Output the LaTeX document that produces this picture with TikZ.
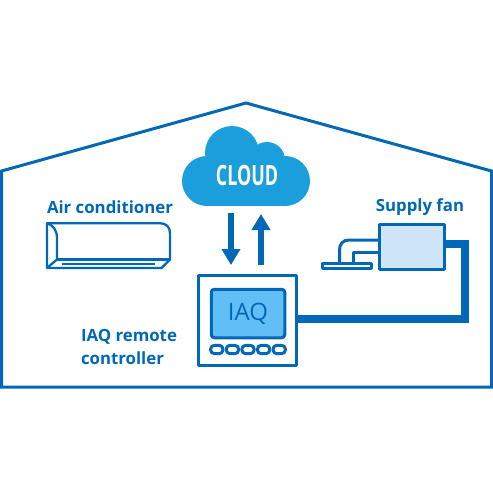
\documentclass[tikz,border=0pt]{standalone}
\usepackage{fontspec}
\setmainfont{Open Sans}
\usepackage{xcolor}
\definecolor{deep}{HTML}{0068B7}
\definecolor{sky}{HTML}{1A9EDC}
\definecolor{glass}{HTML}{62BFF5}
\definecolor{pale}{HTML}{CFE6F8}
\usetikzlibrary{arrows.meta,positioning}

\begin{document}
\begin{tikzpicture}[
  x=1pt, y=-1pt,
  outline/.style={draw=deep, line width=3pt, line join=round},
  thinline/.style={draw=deep, line width=2.3pt, line join=round},
  unit/.style={outline, fill=white, inner sep=0pt},
  lbl/.style={text=deep, font=\bfseries\fontsize{16.8}{23}\selectfont, inner sep=0pt, align=left},
  wire/.style={draw=deep, line width=8.5pt, line join=miter},
  arr/.style={deep, line width=6pt, -{Triangle[length=16pt, width=18pt]}},
  key/.style={unit, rounded corners=3.5pt, minimum width=12.2pt, minimum height=8.2pt}
]
\useasboundingbox (0,0) rectangle (493,490);
% house
\draw[outline, line join=miter] (1.5,387) -- (1.5,171) -- (246,103) -- (491.5,171) -- (491.5,387) -- cycle;
% cloud
\fill[sky] (207,181) circle (25);
\fill[sky] (232,153) circle (27);
\fill[sky] (267,160) circle (18);
\fill[sky] (285,181) circle (25);
\fill[sky] (207,170) rectangle (285,206);
\node[xscale=.64, text=white, font=\bfseries\fontsize{28}{28}\selectfont, inner sep=0pt] (cloud) at (247,175) {CLOUD};
% air conditioner
\node[lbl] (aclabel) at (110,207) {Air conditioner};
\draw[thinline] (47,223.2) -- (160,223.2) .. controls (166,223.2) and (170,227) .. (170,233) -- (170,259.5) -- (161.5,268) -- (47,268) -- cycle;
\draw[thinline] (47,223.2) .. controls (53,225) and (57,230) .. (57,238) -- (57,259.5) -- (47,268);
\draw[thinline] (57,259.5) -- (170,259.5);
\draw[deep, line width=2pt] (62,264) -- (155,264);
% controller
\node[unit, minimum width=98pt, minimum height=90pt] (ctrl) at (247.5,320.5) {};
\node[unit, fill=glass, rounded corners=3pt, minimum width=73.5pt, minimum height=48.5pt,
      text=deep, font=\fontsize{24}{24}\selectfont] (screen) at (248,313.5) {IAQ};
\node[key] (keyc) at (248,349.5) {};
\node[key, left=0.4pt of keyc] (keyb) {};
\node[key, left=0.4pt of keyb] (keya) {};
\node[key, right=0.4pt of keyc] (keyd) {};
\node[key, right=0.4pt of keyd] (keye) {};
\node[lbl] (ctrllabel) at (129,346.5) {IAQ remote\\controller};
% supply fan
\node[lbl] (fanlabel) at (420,207) {Supply fan};
\node[unit, fill=pale, minimum width=65.5pt, minimum height=45pt] (fan) at (412,246.5) {};
\node[unit, minimum width=49pt, minimum height=5.5pt] (vent) at (346.5,266) {};
\draw[outline] (fan.west |- 0,240) -- (349,240) .. controls (343,240) and (339.5,244) .. (339.5,250) -- (339.5,262);
\draw[outline] (fan.west |- 0,252) -- (353,252) -- (353,262);
% links
\draw[wire] (ctrl.east |- 0,319) -- (465,319) -- (465,244) -- (fan.east |- 0,244);
\coordinate (dntop) at (231,213);
\coordinate (dnend) at (231,265);
\coordinate (upend) at (261,214);
\coordinate (uptop) at (261,265);
\draw[arr] (dntop) -- (dnend);
\draw[arr] (uptop) -- (upend);
\end{tikzpicture}
\end{document}
